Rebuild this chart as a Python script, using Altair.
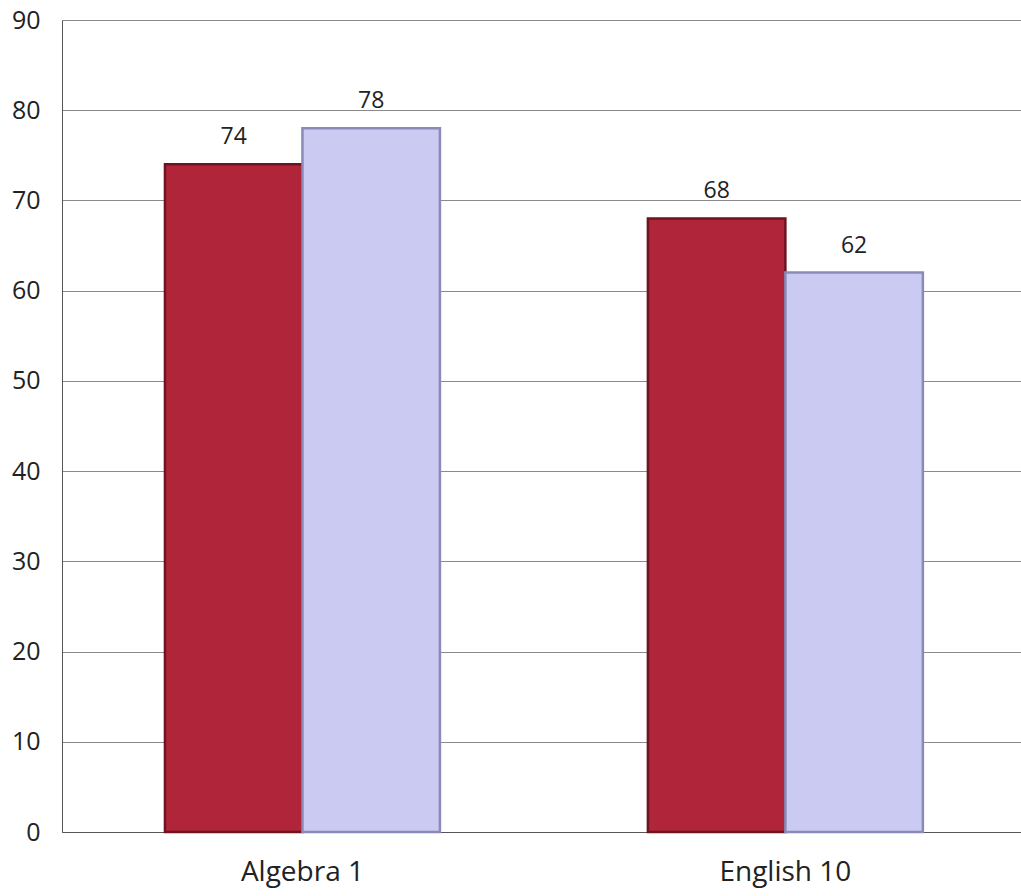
import altair as alt
import pandas as pd

subjects = ["Algebra 1", "Algebra 1", "English 10", "English 10"]
series = ["A", "B", "A", "B"]
values = [74, 78, 68, 62]

df = pd.DataFrame({"subject": subjects, "series": series, "value": values})

FONT = "Open Sans"
color_scale = alt.Scale(domain=["A", "B"], range=["#B0253A", "#CACAF2"])
stroke_scale = alt.Scale(domain=["A", "B"], range=["#6E1420", "#8A8AB8"])

x = alt.X("subject:N", title=None, sort=["Algebra 1", "English 10"],
          scale=alt.Scale(paddingInner=0.4306, paddingOuter=0.2082, align=0.512),
          axis=alt.Axis(labelAngle=0, ticks=False, domain=True, domainColor="#555555",
                        labelFontSize=28, labelFont=FONT, labelColor="#222222",
                        labelPadding=26, grid=False))
y = alt.Y("value:Q", title=None,
          scale=alt.Scale(domain=[0, 90], nice=False),
          axis=alt.Axis(values=list(range(0, 91, 10)), ticks=False, domainColor="#555555",
                        labelFontSize=25, labelFont=FONT, labelColor="#222222",
                        labelPadding=22, gridColor="#8a8a8a", gridWidth=1.2))

base = alt.Chart(df).encode(x=x, xOffset=alt.XOffset("series:N", sort=["A", "B"]))

bars = base.mark_bar(strokeWidth=2.5).encode(
    y=y,
    color=alt.Color("series:N", scale=color_scale, legend=None),
    stroke=alt.Stroke("series:N", scale=stroke_scale, legend=None),
)

labels = base.mark_text(baseline="bottom", dy=-15, fontSize=23, font=FONT, color="#222222").encode(
    y=alt.Y("value:Q", scale=alt.Scale(domain=[0, 90], nice=False)),
    text="value:Q",
)

chart = (bars + labels).properties(
    width=959, height=812,
    autosize=alt.AutoSizeParams(type="none"),
    padding={"left": 62, "top": 20, "right": 0, "bottom": 64},
).configure_view(stroke=None).configure(background="white")

chart.save("out.html", embed_options={"renderer": "svg", "actions": False})
